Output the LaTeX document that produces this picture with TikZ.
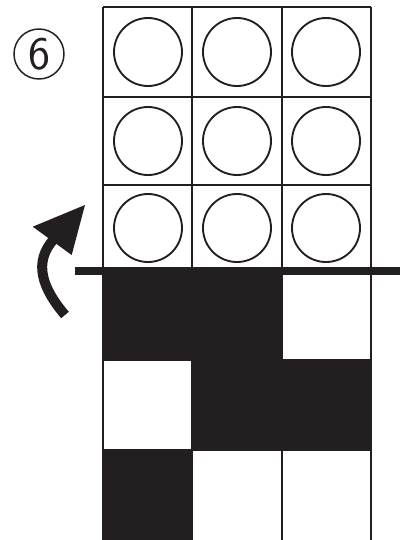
\documentclass[tikz,border=0pt]{standalone}
\definecolor{ink}{RGB}{35,31,32}
\begin{document}
\begin{tikzpicture}[x=0.75pt,y=-0.75pt,
  gridline/.style={line width=1.5pt,draw=ink},
  ring/.style={circle,draw=ink,line width=1.4pt,minimum size=51pt,inner sep=0pt},
  blackcell/.style={fill=ink},
  shaft/.style={line width=7.5pt,draw=ink},
  label6/.style={circle,draw=ink,text=ink,line width=1.1pt,minimum size=37.5pt,inner sep=0pt,font=\sffamily\fontsize{35}{35}\selectfont}]
\useasboundingbox (0,0) rectangle (400,540);
% grid lines
\foreach \x in {103,192,282,371} \draw[gridline] (\x,7) -- (\x,540);
\foreach \y in {7,97,185} \draw[gridline] (103,\y) -- (371,\y);
\draw[gridline] (103,360) -- (371,360);
\draw[gridline] (103,450) -- (371,450);
% filled cells of the lower grid
\fill[blackcell] (102,271) rectangle (283,361);
\fill[blackcell] (191,359) rectangle (372,451);
\fill[blackcell] (102,449) rectangle (193,540);
% circles
\foreach \cx/\i in {148/1,237/2,326/3}
  \foreach \cy/\j in {52/1,141/2,228/3}
    \node[ring] (c\i\j) at (\cx,\cy) {};
% thick bar
\coordinate (barL) at (75,271);
\coordinate (barR) at (400,271);
\draw[line width=6.2pt,draw=ink] (barL) -- (barR);
% curved arrow
\coordinate (tail) at (65,315);
\coordinate (hbase) at (54,239);
\draw[shaft] (tail) .. controls (42,288) and (33,262) .. (hbase);
\fill[ink] (85,205) -- (32.7,226.7) -- (71.7,255) -- cycle;
% label
\node[label6] (lab) at (39,54) {6};
\end{tikzpicture}
\end{document}
